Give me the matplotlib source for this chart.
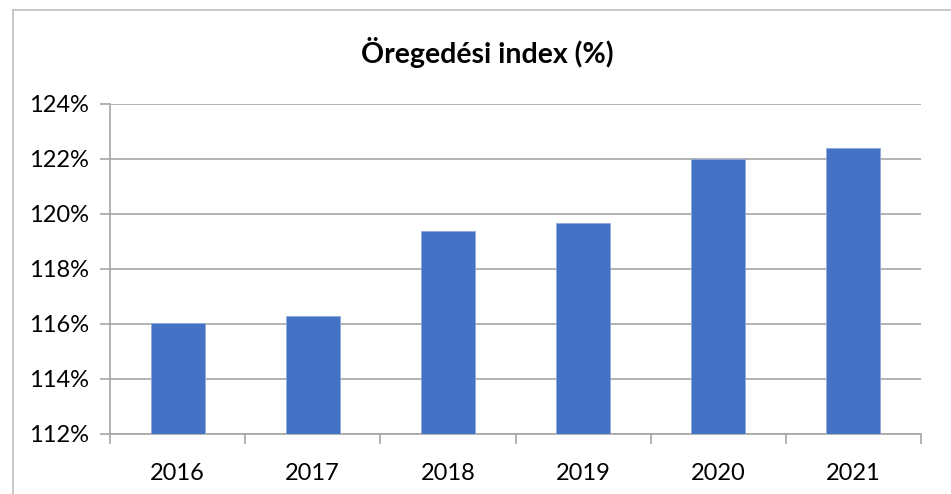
import numpy as np
import matplotlib.pyplot as plt
from matplotlib.lines import Line2D

# data
years = ['2016', '2017', '2018', '2019', '2020', '2021']
index_pct = [116.04, 116.30, 119.37, 119.67, 122.00, 122.40]
y_ticks = [112, 114, 116, 118, 120, 122, 124]

W, H = 951, 494
fig = plt.figure(figsize=(W / 100, H / 100), dpi=100)
plt.rcParams['font.family'] = ['Lato', 'DejaVu Sans']

# plot area in pixels: left 110, right 921, top 104, bottom 434
left, right, top, bottom = 110, 921, 104, 434
ax = fig.add_axes([left / W, 1 - bottom / H, (right - left) / W, (bottom - top) / H])

grid_col = '#a6a6a6'
x = np.arange(len(years))
ax.bar(x, index_pct, width=0.4, color='#4472c4', edgecolor='#8faadc', linewidth=0.6, zorder=3)

ax.set_xlim(-0.5, len(years) - 0.5)
ax.set_ylim(112, 124)
ax.set_yticks(y_ticks)
ax.set_yticklabels([f'{v}%' for v in y_ticks], fontsize=17)
ax.yaxis.grid(True, color=grid_col, linewidth=1.2, zorder=0)

# category labels centred, tick marks between categories
ax.set_xticks(x)
ax.set_xticklabels(years, fontsize=17)
ax.tick_params(axis='x', length=0, pad=21)
ax.set_xticks(np.arange(-0.5, len(years)), minor=True)
ax.tick_params(axis='x', which='minor', length=7, color=grid_col, width=1.2)
ax.tick_params(axis='y', length=7, color=grid_col, width=1.2, pad=8)

for s in ['top', 'right']:
    ax.spines[s].set_visible(False)
for s in ['left', 'bottom']:
    ax.spines[s].set_color(grid_col)
    ax.spines[s].set_linewidth(1.2)

fig.text(487 / W, 1 - 52 / H, 'Öregedési index (%)', ha='center', va='center',
         fontsize=20.5, fontweight='bold')

# outer chart frame (cut off at the right and bottom)
fig.add_artist(Line2D([13 / W, 1], [1 - 10 / H, 1 - 10 / H], color='#bfbfbf', linewidth=1.2))
fig.add_artist(Line2D([13 / W, 13 / W], [1 - 10 / H, 0], color='#bfbfbf', linewidth=1.2))

fig.savefig('out.png', dpi=100)
